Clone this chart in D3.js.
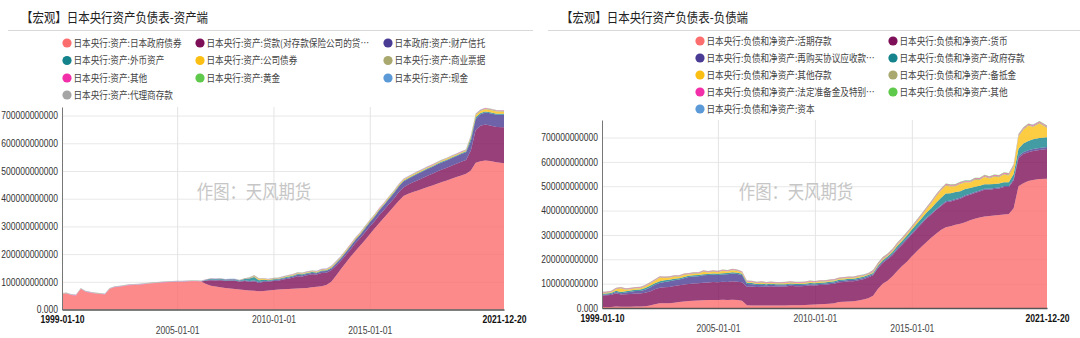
<!DOCTYPE html>
<html>
<head>
<meta charset="utf-8">
<script src="https://cdn.jsdelivr.net/npm/d3@7"></script>
<style>
  html, body { margin: 0; padding: 0; background: #fff; }
  svg { display: block; }
</style>
</head>
<body>
<svg id="chart" width="1080" height="338"></svg>
<script>
// Quarterly observation dates shared by both panels
const dates = [
  "1999-01-10","1999-04-01","1999-07-01","1999-10-01",
  "2000-01-01","2000-04-01","2000-07-01","2000-10-01",
  "2001-01-01","2001-04-01","2001-07-01","2001-10-01",
  "2002-01-01","2002-04-01","2002-07-01","2002-10-01",
  "2003-01-01","2003-04-01","2003-07-01","2003-10-01",
  "2004-01-01","2004-04-01","2004-07-01","2004-10-01",
  "2005-01-01","2005-04-01","2005-07-01","2005-10-01",
  "2006-01-01","2006-04-01","2006-07-01","2006-10-01",
  "2007-01-01","2007-04-01","2007-07-01","2007-10-01",
  "2008-01-01","2008-04-01","2008-07-01","2008-10-01",
  "2009-01-01","2009-04-01","2009-07-01","2009-10-01",
  "2010-01-01","2010-04-01","2010-07-01","2010-10-01",
  "2011-01-01","2011-04-01","2011-07-01","2011-10-01",
  "2012-01-01","2012-04-01","2012-07-01","2012-10-01",
  "2013-01-01","2013-04-01","2013-07-01","2013-10-01",
  "2014-01-01","2014-04-01","2014-07-01","2014-10-01",
  "2015-01-01","2015-04-01","2015-07-01","2015-10-01",
  "2016-01-01","2016-04-01","2016-07-01","2016-10-01",
  "2017-01-01","2017-04-01","2017-07-01","2017-10-01",
  "2018-01-01","2018-04-01","2018-07-01","2018-10-01",
  "2019-01-01","2019-04-01","2019-07-01","2019-10-01",
  "2020-01-01","2020-04-01","2020-07-01","2020-10-01",
  "2021-01-01","2021-04-01","2021-08-01","2021-12-20"
];

// Values in units of 1e9 (one row per year, four quarters)
// ---- Asset side ----
const assetJGB = [
  56,58,52,50, 74,64,60,58, 56,54,74,80, 82,85,87,88, 89,91,93,95, 96,97,98,99,
  100,100,101,102, 102,101,92,86, 83,80,78,76, 74,72,70,69, 68,66,67,69, 70,72,73,74,
  75,76,77,78, 80,82,84,88, 100,122,145,168, 190,210,230,250, 272,292,312,332,
  352,372,392,410, 418,424,430,436, 442,448,454,460, 466,472,478,484, 490,502,530,535,
  538,536,532,528
];
const assetLoans = [
  0,0,0,0, 0,0,0,0, 0,0,0,0, 0,0,0,0, 0,0,0,0, 0,0,0,0, 0,0,0,0,
  0,0,12,20, 22,26,25,28, 30,28,33,31, 34,30,33,31, 33,32,35,37, 40,44,42,46,
  47,44,48,45, 42,36,30,28, 27,29,27,28, 28,27,29,28, 29,28,31,30, 33,35,37,39,
  41,42,44,45, 46,47,48,49, 50,72,118,128, 130,128,127,130
];
const assetTrust = [
  0,0,0,0, 0,0,0,0, 0,0,0,0, 0,0,0,0, 0,0,0,0, 0,0,0,0, 0,0,0,0,
  0,0,1,2, 2,2,2,2, 2,2,3,3, 3,3,3,3, 3,3,4,4, 4,5,5,5, 5,5,6,6,
  6,7,8,9, 10,11,12,13, 14,15,16,17, 18,19,20,22, 21,22,23,23, 24,24,25,26,
  26,27,27,28, 28,34,40,42, 43,44,44,45
];
const assetFx = [
  0,0,0,0, 0,0,0,0, 0,0,0,0, 0,0,0,0, 0,0,0,0, 0,0,0,0, 0,0,0,0,
  0,0,2,3, 3,3,3,3, 3,3,4,9, 12,7,4,3, 3,3,3,3, 3,3,3,3, 3,3,3,3,
  3,3,3,3, 3,3,3,3, 3,3,3,3, 3,3,3,3, 3,3,3,3, 3,3,3,3, 3,3,3,3,
  3,10,6,4, 4,4,4,4
];
const assetCorpBonds = [
  0,0,0,0, 0,0,0,0, 0,0,0,0, 0,0,0,0, 0,0,0,0, 0,0,0,0, 0,0,0,0,
  0,0,0,0, 0,0,0,0, 0,0,0,0, 2,3,3,2, 1,1,1,2, 2,2,2,2, 2,2,2,2,
  3,3,3,3, 3,3,3,3, 3,3,3,3, 3,3,3,3, 3,3,3,3, 3,3,3,3, 3,3,3,3,
  3,5,7,8, 8,8,8,7
];
const assetCP = [
  0,0,0,0, 0,0,0,0, 0,0,0,0, 0,0,0,0, 0,0,0,0, 0,0,0,0, 0,0,0,0,
  0,0,0,0, 0,0,0,0, 0,0,1,2, 3,2,1,1, 2,2,2,2, 2,2,2,2, 2,2,2,2,
  2,2,2,2, 2,2,2,2, 2,2,2,2, 2,2,2,2, 2,2,2,2, 2,2,2,2, 2,2,2,2,
  2,4,4,3, 3,3,3,3
];
const assetOther = [
  1,1,1,1, 1,1,1,1, 1,1,1,1, 1,1,1,1, 1,1,1,1, 1,1,1,1, 1,1,1,1,
  1,1,1,1, 1,1,1,1, 1,1,1,1, 1,1,1,1, 1,1,1,1, 1,1,1,1, 1,1,1,1,
  1,1,1,1, 1,1,1,1, 1,1,1,1, 1,1,1,1, 1,1,1,1, 1,1,1,1, 1,1,1,1,
  1,1,1,1, 1,1,1,1
];
const assetGold = [
  0.4,0.4,0.4,0.4, 0.4,0.4,0.4,0.4, 0.4,0.4,0.4,0.4, 0.4,0.4,0.4,0.4, 0.4,0.4,0.4,0.4, 0.4,0.4,0.4,0.4, 0.4,0.4,0.4,0.4,
  0.4,0.4,0.4,0.4, 0.4,0.4,0.4,0.4, 0.4,0.4,0.4,0.4, 0.4,0.4,0.4,0.4, 0.4,0.4,0.4,0.4, 0.4,0.4,0.4,0.4, 0.4,0.4,0.4,0.4,
  0.4,0.4,0.4,0.4, 0.4,0.4,0.4,0.4, 0.4,0.4,0.4,0.4, 0.4,0.4,0.4,0.4, 0.4,0.4,0.4,0.4, 0.4,0.4,0.4,0.4, 0.4,0.4,0.4,0.4,
  0.4,0.4,0.4,0.4, 0.4,0.4,0.4,0.4
];
const assetCash = [
  0.3,0.3,0.3,0.3, 0.3,0.3,0.3,0.3, 0.3,0.3,0.3,0.3, 0.3,0.3,0.3,0.3, 0.3,0.3,0.3,0.3, 0.3,0.3,0.3,0.3, 0.3,0.3,0.3,0.3,
  0.3,0.3,0.3,0.3, 0.3,0.3,0.3,0.3, 0.3,0.3,0.3,0.3, 0.3,0.3,0.3,0.3, 0.3,0.3,0.3,0.3, 0.3,0.3,0.3,0.3, 0.3,0.3,0.3,0.3,
  0.3,0.3,0.3,0.3, 0.3,0.3,0.3,0.3, 0.3,0.3,0.3,0.3, 0.3,0.3,0.3,0.3, 0.3,0.3,0.3,0.3, 0.3,0.3,0.3,0.3, 0.3,0.3,0.3,0.3,
  0.3,0.3,0.3,0.3, 0.3,0.3,0.3,0.3
];
const assetAgency = [
  2,2,2,2, 2,2,2,2, 2,2,2,2, 2,2,2,2, 2,2,2,2, 2,2,2,2, 2,2,2,2,
  2,2,0.5,0.5, 0.5,0.5,0.5,0.5, 0.5,0.5,0.5,0.5, 0.5,0.5,0.5,0.5, 0.5,0.5,0.5,0.5, 0.5,0.5,0.5,0.5, 0.5,0.5,0.5,0.5,
  0.5,0.5,0.5,0.5, 0.5,0.5,0.5,0.5, 0.5,0.5,0.5,0.5, 0.5,0.5,0.5,0.5, 0.5,0.5,0.5,0.5, 0.5,0.5,0.5,0.5, 0.5,0.5,0.5,0.5,
  0.5,0.5,0.5,0.5, 0.5,0.5,0.5,0.5
];

// ---- Liability side ----
const liabCurrentDep = [
  4,4,4,6, 5,5,5,6, 6,7,10,15, 19,19,20,22, 25,27,29,30, 31,32,33,33, 33,34,33,34,
  33,30,11,10, 10,10,10,10, 10,10,10,11, 11,11,12,13, 14,15,16,17, 20,25,26,27, 28,31,35,40,
  50,78,100,112, 130,152,172,190, 212,232,252,270, 288,305,320,332, 336,342,346,352,
  360,366,372,376, 378,380,382,384, 386,410,500,512, 522,526,530,531
];
const liabNotes = [
  47,48,49,55, 50,51,52,54, 54,56,58,62, 64,66,66,68, 68,69,70,71, 71,72,72,74, 73,74,74,76,
  75,76,76,78, 76,77,77,79, 77,78,78,80, 78,78,78,80, 78,79,79,81, 80,81,81,83, 82,83,83,85,
  84,85,85,88, 87,88,88,91, 91,92,93,96, 96,97,98,102, 101,102,103,107, 105,106,106,110,
  108,109,109,113, 111,114,116,120, 118,119,119,122
];
const liabRepo = [
  3,3,4,5, 6,8,10,10, 10,12,16,18, 20,22,24,24, 24,26,28,28, 28,30,30,30, 30,30,32,32,
  32,30,12,10, 8,8,6,6, 6,5,5,5, 5,5,5,5, 5,5,5,5, 5,5,5,5, 5,5,5,5,
  5,5,5,5, 5,5,5,5, 5,5,5,5, 4,4,4,4, 4,4,4,4, 4,4,4,4,
  4,4,4,4, 4,6,8,8, 8,8,8,8
];
const liabGovDep = [
  5,5,5,5, 5,5,5,5, 6,7,7,7, 7,7,6,6, 5,5,5,5, 5,5,5,5, 5,5,5,5,
  5,5,5,5, 5,5,5,5, 5,5,5,5, 5,5,5,5, 5,5,5,5, 5,5,5,5, 5,5,5,5,
  5,6,6,6, 8,10,10,12, 14,16,18,20, 22,26,30,32, 30,28,26,26, 24,22,20,18,
  18,16,16,15, 15,20,30,36, 38,40,41,40
];
const liabOtherDep = [
  2,2,3,6, 14,6,5,5, 5,6,9,10, 14,9,8,8, 6,9,6,7, 6,10,6,7, 6,9,6,8,
  7,4,3,3, 3,4,3,3, 3,3,4,3, 3,3,3,4, 3,4,3,3, 3,3,4,3, 3,4,3,3,
  3,3,4,4, 4,5,5,6, 6,8,10,14, 20,26,30,32, 28,24,30,26, 22,28,24,30,
  24,30,26,32, 28,30,50,56, 62,50,60,38
];
const liabProvisions = [
  3,3,3,3, 3,3,3,3, 3,3,3,3, 3,3,3,3, 3,3,3,3, 3,3,3,3, 3,3,3,3,
  3,3,3,3, 3,3,3,3, 3,3,3,3, 3,3,3,3, 3,3,3,3, 3,3,3,3, 3,3,3,3,
  4,4,4,4, 4,4,4,4, 4,4,4,4, 4,4,4,4, 4,4,4,4, 4,4,4,4, 4,4,4,4,
  5,5,5,5, 5,5,5,5
];
const liabReserves = [
  2,2,2,2, 2,2,2,2, 2,2,2,2, 2,2,2,2, 2,2,2,2, 2,2,2,2, 2,2,2,2,
  2,2,2,2, 2,2,2,2, 2,2,2,2, 2,2,2,2, 2,2,2,2, 2,2,2,2, 2,2,2,2,
  3,3,3,3, 3,3,3,3, 3,3,3,3, 3,3,3,3, 3,3,3,3, 3,3,3,3, 3,3,3,3,
  3,3,3,3, 3,3,3,3
];
const liabOther = [
  1,1,1,1, 1,1,1,1, 1,1,1,1, 1,1,1,1, 1,1,1,1, 1,1,1,1, 1,1,1,1,
  1,1,1,1, 1,1,1,1, 1,1,1,1, 1,1,1,1, 1,1,1,1, 1,1,1,1, 1,1,1,1,
  2,2,2,2, 2,2,2,2, 2,2,2,2, 2,2,2,2, 2,2,2,2, 2,2,2,2, 2,2,2,2,
  2,2,2,2, 2,2,2,2
];
const liabCapital = [
  0.1,0.1,0.1,0.1, 0.1,0.1,0.1,0.1, 0.1,0.1,0.1,0.1, 0.1,0.1,0.1,0.1, 0.1,0.1,0.1,0.1, 0.1,0.1,0.1,0.1, 0.1,0.1,0.1,0.1,
  0.1,0.1,0.1,0.1, 0.1,0.1,0.1,0.1, 0.1,0.1,0.1,0.1, 0.1,0.1,0.1,0.1, 0.1,0.1,0.1,0.1, 0.1,0.1,0.1,0.1, 0.1,0.1,0.1,0.1,
  0.1,0.1,0.1,0.1, 0.1,0.1,0.1,0.1, 0.1,0.1,0.1,0.1, 0.1,0.1,0.1,0.1, 0.1,0.1,0.1,0.1, 0.1,0.1,0.1,0.1, 0.1,0.1,0.1,0.1,
  0.1,0.1,0.1,0.1, 0.1,0.1,0.1,0.1
];

// Series names and colours
const assetNames = [
  "日本央行:资产:日本政府债券", "日本央行:资产:贷款(对存款保险公司的贷…", "日本政府:资产:财产信托",
  "日本央行:资产:外币资产", "日本央行:资产:公司债券", "日本央行:资产:商业票据",
  "日本央行:资产:其他", "日本央行:资产:黄金", "日本央行:资产:现金",
  "日本央行:资产:代理商存款"
];
const assetSeries = [assetJGB, assetLoans, assetTrust, assetFx, assetCorpBonds, assetCP,
  assetOther, assetGold, assetCash, assetAgency];
const assetColors = ["#fc6d6d", "#7d1058", "#4a3b94", "#14838c", "#fbbf14", "#a9a86f",
  "#f22ea8", "#5ec94a", "#5b9ad6", "#a5a5a5"];

const liabNames = [
  "日本央行:负债和净资产:活期存款", "日本央行:负债和净资产:货币",
  "日本央行:负债和净资产:再购买协议应收款…", "日本央行:负债和净资产:政府存款",
  "日本央行:负债和净资产:其他存款", "日本央行:负债和净资产:备抵金",
  "日本央行:负债和净资产:法定准备金及特别…", "日本央行:负债和净资产:其他",
  "日本央行:负债和净资产:资本"
];
const liabSeries = [liabCurrentDep, liabNotes, liabRepo, liabGovDep, liabOtherDep,
  liabProvisions, liabReserves, liabOther, liabCapital];
const liabColors = ["#fc6d6d", "#7d1058", "#4a3b94", "#14838c", "#fbbf14", "#a9a86f",
  "#f22ea8", "#5ec94a", "#5b9ad6"];

const yTicks = [0, 100, 200, 300, 400, 500, 600, 700];
const xTickDates = ["1999-01-10", "2005-01-01", "2010-01-01", "2015-01-01", "2021-12-20"];
const UNIT = 1e9;

const parse = d3.timeParse("%Y-%m-%d");
const fmtDate = d3.timeFormat("%Y-%m-%d");
const CJK = "'Noto Sans CJK SC', 'Noto Sans', sans-serif";
const LAT = "'Liberation Sans', Arial, sans-serif";
const svg = d3.select("#chart");

// Narrow the rendered glyphs to the compact look of the typeface used
function squash(sel, k) {
  sel.each(function () {
    const w = this.getComputedTextLength();
    if (w > 0) d3.select(this).attr("textLength", w * k).attr("lengthAdjust", "spacingAndGlyphs");
  });
}

function drawPanel(cfg) {
  const g = svg.append("g");

  // Title and rule
  g.append("text")
    .attr("x", cfg.titleX).attr("y", 22)
    .attr("font-family", CJK).attr("font-size", 13).attr("fill", "#222")
    .text(cfg.title)
    .call(squash, 0.88);
  g.append("line")
    .attr("x1", cfg.ruleX[0]).attr("x2", cfg.ruleX[1])
    .attr("y1", 30.5).attr("y2", 30.5)
    .attr("stroke", "#d9d9d9").attr("stroke-width", 1);

  // Legend
  const ncol = cfg.legendCols.length;
  const leg = g.append("g");
  cfg.names.forEach((name, i) => {
    const cx = cfg.legendCols[i % ncol];
    const cy = cfg.legendRows[Math.floor(i / ncol)];
    leg.append("circle").attr("cx", cx).attr("cy", cy).attr("r", 4.6).attr("fill", cfg.colors[i]);
    leg.append("text")
      .attr("x", cx + 6.5).attr("y", cy + 3.6)
      .attr("font-family", CJK).attr("font-size", 10).attr("fill", "#444")
      .text(name)
      .call(squash, 0.86);
  });

  // Scales
  const x = d3.scaleTime()
    .domain([parse(dates[0]), parse(dates[dates.length - 1])])
    .range([cfg.x0, cfg.x1]);
  const y = d3.scaleLinear()
    .domain([0, cfg.yMax * UNIT])
    .range([cfg.yBase, cfg.yTop]);

  // Grid
  g.append("g")
    .attr("transform", `translate(${cfg.x0},0)`)
    .call(d3.axisLeft(y).tickValues(yTicks.slice(1).map(v => v * UNIT))
      .tickSize(-(cfg.x1 - cfg.x0)).tickFormat(""))
    .call(s => s.select(".domain").remove())
    .call(s => s.selectAll("line").attr("stroke", "#e8e8e8"));
  g.append("g")
    .attr("transform", `translate(0,${cfg.yBase})`)
    .call(d3.axisBottom(x).tickValues(xTickDates.slice(1, 4).map(parse))
      .tickSize(-(cfg.yBase - cfg.yTop)).tickFormat(""))
    .call(s => s.select(".domain").remove())
    .call(s => s.selectAll("line").attr("stroke", "#e4e4e4"));

  // Stacked areas
  const keys = cfg.series.map((_, i) => "s" + i);
  const table = dates.map((d, j) => {
    const row = { date: parse(d) };
    cfg.series.forEach((arr, i) => { row["s" + i] = arr[j] * UNIT; });
    return row;
  });
  const stacked = d3.stack().keys(keys)(table);
  const area = d3.area()
    .x(d => x(d.data.date))
    .y0(d => y(d[0]))
    .y1(d => y(d[1]))
    .curve(d3.curveLinear);
  g.append("g").selectAll("path")
    .data(stacked)
    .join("path")
    .attr("d", area)
    .attr("fill", (d, i) => cfg.colors[i])
    .attr("fill-opacity", 0.8);

  // Watermark
  g.append("text")
    .attr("x", cfg.mark[0]).attr("y", cfg.mark[1])
    .attr("text-anchor", "middle")
    .attr("font-family", CJK).attr("font-size", 19).attr("fill", "#c6c6c6")
    .text("作图：天风期货")
    .call(squash, 0.86);

  // Y axis
  g.append("g")
    .attr("transform", `translate(${cfg.x0},0)`)
    .call(d3.axisLeft(y).tickValues(yTicks.map(v => v * UNIT))
      .tickSize(0).tickSizeOuter(0).tickPadding(4)
      .tickFormat(v => v === 0 ? "0.000" : String(v)))
    .call(s => s.select(".domain").attr("stroke", "#777"))
    .call(s => s.selectAll("text")
      .attr("font-family", LAT).attr("font-size", 10).attr("fill", "#333")
      .call(squash, 0.85));

  // X axis with staggered labels
  g.append("g")
    .attr("transform", `translate(0,${cfg.yBase})`)
    .call(d3.axisBottom(x).tickValues(xTickDates.map(parse))
      .tickSize(0).tickSizeOuter(0).tickFormat(fmtDate))
    .call(s => s.select(".domain").attr("stroke", "#555").attr("stroke-width", 1.5))
    .call(s => s.selectAll(".tick text")
      .attr("dy", null)
      .attr("y", (d, i) => (i === 1 || i === 3 ? cfg.row2 : cfg.row1) - cfg.yBase)
      .attr("font-family", LAT).attr("font-size", 10)
      .attr("font-weight", (d, i) => (i === 0 || i === 4) ? "bold" : "normal")
      .attr("fill", (d, i) => (i === 0 || i === 4) ? "#111" : "#444")
      .call(squash, 0.86));
}

drawPanel({
  title: "【宏观】日本央行资产负债表-资产端",
  titleX: 21, ruleX: [8, 533],
  names: assetNames, series: assetSeries, colors: assetColors,
  legendCols: [67, 200, 388], legendRows: [43, 60.5, 78, 95],
  x0: 62, x1: 504, yTop: 107, yBase: 309.5, yMax: 731,
  row1: 322.5, row2: 333.5,
  mark: [254, 199]
});

drawPanel({
  title: "【宏观】日本央行资产负债表-负债端",
  titleX: 561, ruleX: [548, 1080],
  names: liabNames, series: liabSeries, colors: liabColors,
  legendCols: [700, 893], legendRows: [41, 58, 75, 92, 109],
  x0: 602, x1: 1047, yTop: 120, yBase: 308, yMax: 772,
  row1: 321.5, row2: 331.5,
  mark: [796, 199]
});
</script>
</body>
</html>
